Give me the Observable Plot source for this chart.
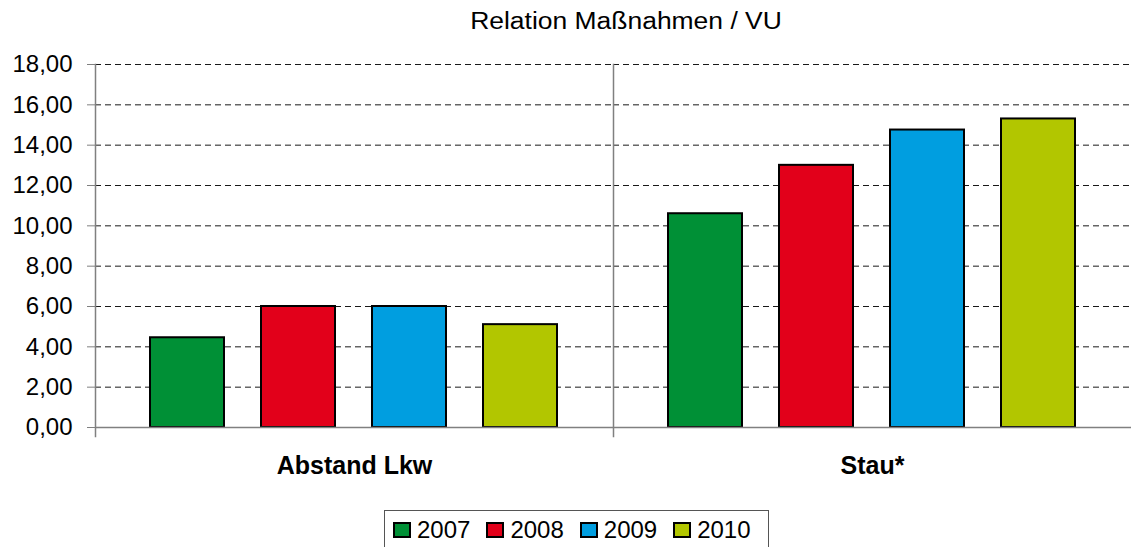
<!DOCTYPE html>
<html>
<head>
<meta charset="utf-8">
<script src="https://cdn.jsdelivr.net/npm/d3@7"></script>
<script src="https://cdn.jsdelivr.net/npm/@observablehq/plot@0.6"></script>
<style>
  html, body { margin: 0; padding: 0; background: #fff; }
  #wrap { position: relative; width: 1131px; height: 547px; overflow: hidden; font-family: "Liberation Sans", Arial, sans-serif; color: #000; }
  #title { position: absolute; left: 626px; top: 10px; font-size: 23px; line-height: 1; white-space: nowrap; transform: translateX(-50%) scaleX(1.15); }
  #chart { position: absolute; left: 0; top: 0; }
  #legend { position: absolute; left: 384px; top: 510px; width: 385px; height: 50px; box-sizing: border-box; border: 1px solid #555; display: flex; align-items: flex-start; padding-left: 8px; padding-top: 9px; }
  .item { display: flex; align-items: center; margin-right: 16px; font-size: 24px; line-height: 20px; }
  .sw { width: 18px; height: 16px; box-sizing: border-box; border: 2px solid #000; margin-right: 6px; }
</style>
</head>
<body>
<div id="wrap">
  <div id="chart"></div>
  <div id="title">Relation Maßnahmen / VU</div>
  <div id="legend"></div>
</div>
<script>
const categories = ["Abstand Lkw", "Stau*"];
const years = ["2007", "2008", "2009", "2010"];
const values2007 = [4.45, 10.6];
const values2008 = [6.0, 13.0];
const values2009 = [6.0, 14.75];
const values2010 = [5.1, 15.3];
const colors = ["#009036", "#E2001A", "#009EE0", "#B2C600"];
const yTicks = [0, 2, 4, 6, 8, 10, 12, 14, 16, 18];
const title = "Relation Maßnahmen / VU";

const series = [values2007, values2008, values2009, values2010];
const data = years.flatMap((yr, i) => categories.map((c, j) => ({category: c, year: yr, value: series[i][j]})));
const fmt = d => d.toFixed(2).replace(".", ",");

const chart = Plot.plot({
  width: 1131,
  height: 490,
  marginLeft: 95,
  marginRight: 0,
  marginTop: 64,
  marginBottom: 63,
  style: {fontFamily: "'Liberation Sans', Arial, sans-serif", fontSize: "24px", color: "#000", background: "transparent", overflow: "visible"},
  fx: {domain: categories, padding: 0, label: null},
  x: {domain: years, paddingInner: 0.33, paddingOuter: 0.478, axis: null},
  y: {domain: [0, 18], label: null},
  color: {domain: years, range: colors},
  marks: [
    Plot.gridY(yTicks.filter(d => d > 0), {stroke: "#000", strokeOpacity: 0.9, strokeDasharray: "6,4", strokeWidth: 1}),
    Plot.axisY(yTicks, {tickSize: 8, tickPadding: 15, tickFormat: fmt, stroke: "#808080", fill: "#000", fontSize: 24, label: null}),
    Plot.axisFx({anchor: "bottom", tickSize: 0, tickPadding: 29, fontWeight: "bold", fontSize: 25, fill: "#000", label: null}),
    Plot.barY(data, {fx: "category", x: "year", y: "value", fill: "year", stroke: "#000", strokeWidth: 2}),
    Plot.ruleY([0], {stroke: "#808080", strokeWidth: 1.5}),
    Plot.frame({anchor: "left", stroke: "#808080", strokeWidth: 1.5, insetBottom: -9})
  ]
});
document.getElementById("chart").appendChild(chart);
document.getElementById("title").textContent = title;

const legend = document.getElementById("legend");
years.forEach((yr, i) => {
  const item = document.createElement("div");
  item.className = "item";
  const sw = document.createElement("div");
  sw.className = "sw";
  sw.style.background = colors[i];
  const t = document.createElement("span");
  t.textContent = yr;
  item.appendChild(sw);
  item.appendChild(t);
  legend.appendChild(item);
});
</script>
</body>
</html>
